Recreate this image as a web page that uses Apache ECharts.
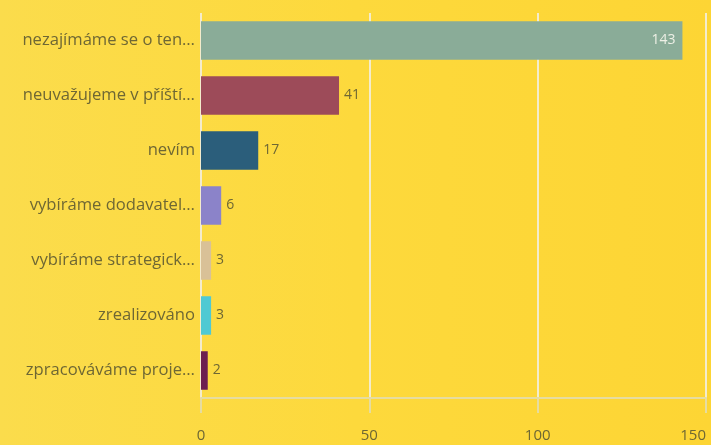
<!DOCTYPE html>
<html><head><meta charset="utf-8">
<script src="https://cdn.jsdelivr.net/npm/echarts@6/dist/echarts.min.js"></script>
<style>html,body{margin:0;padding:0}#c{width:711px;height:445px}</style>
</head><body><div id="c"></div>
<script>
const categories = ["nezajímáme se o ten…","neuvažujeme v příští…","nevím","vybíráme dodavatel…","vybíráme strategick…","zrealizováno","zpracováváme proje…"];
const values = [143,41,17,6,3,3,2];
const colors = ["#8aac98","#9d4b59","#2b5e7b","#8b83c9","#d9c197","#4fc9d3","#6c1f50"];
const xTicks = [0,50,100,150];

const chart = echarts.init(document.getElementById('c'));
chart.setOption({
  backgroundColor: {type:'linear',x:0,y:0,x2:1,y2:0,colorStops:[{offset:0,color:'#fbdc4c'},{offset:0.5,color:'#fdd93c'},{offset:1,color:'#fdd534'}]},
  textStyle:{fontFamily:'Open Sans'},
  grid:{left:201,right:5,top:13,bottom:47,containLabel:false,outerBoundsMode:'none'},
  xAxis:{type:'value',min:xTicks[0],max:xTicks[xTicks.length-1],interval:50,
    axisLine:{show:true,lineStyle:{color:'#e6dca0',width:2}},
    axisTick:{show:true,length:15,lineStyle:{color:'#e6dca0',width:2}},
    axisLabel:{margin:30,color:'#6e6734',fontSize:15,alignMaxLabel:'right'},
    splitLine:{show:true,lineStyle:{color:'#f4eccc',width:2}}},
  yAxis:{type:'category',inverse:true,data:categories,
    axisLine:{show:false},axisTick:{show:false},
    axisLabel:{margin:6,color:'#6e6734',fontSize:16.6}},
  series:[{type:'bar',barWidth:'70%',
    data:values.map((v,i)=>({value:v,itemStyle:{color:colors[i]},
      label: i===0 ? {position:'insideRight',color:'#eef0e6',distance:7} : {position:'right',color:'#6e6734',distance:5}})),
    label:{show:true,fontSize:14}}]
});
</script></body></html>
